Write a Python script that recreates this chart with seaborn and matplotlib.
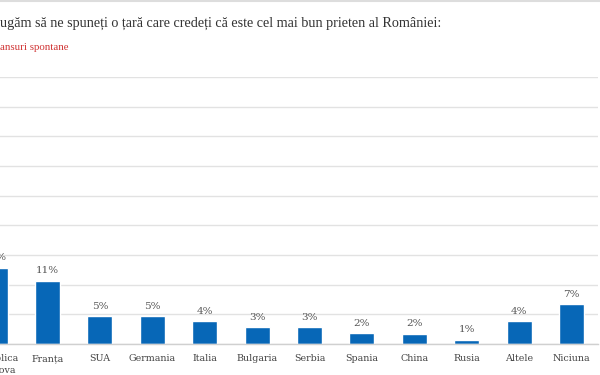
import matplotlib
matplotlib.use("Agg")
import matplotlib.pyplot as plt
import seaborn as sns
import pandas as pd
import numpy as np
from matplotlib.lines import Line2D

categories = ["Republica\nMoldova", "Franța", "SUA", "Germania", "Italia", "Bulgaria",
              "Serbia", "Spania", "China", "Rusia", "Altele", "Niciuna"]
values = [12.8, 10.7, 4.7, 4.7, 3.8, 2.8, 2.8, 1.8, 1.7, 0.7, 3.8, 6.7]
value_labels = ["13%", "11%", "5%", "5%", "4%", "3%", "3%", "2%", "2%", "1%", "4%", "7%"]
yticks = [0, 5, 10, 15, 20, 25, 30, 35, 40, 45]

title = "ugăm să ne spuneți o țară care credeți că este cel mai bun prieten al României:"
subtitle = "ansuri spontane"

sns.set_theme(style="white")
plt.rcParams['font.family'] = ['DejaVu Serif']

df = pd.DataFrame({"cat": categories, "val": values})

fig = plt.figure(figsize=(6, 3.75), dpi=100)
ax = fig.add_axes([-31.1/600, 31/375, 628.8/600, 267/375])

sns.barplot(data=df, x="cat", y="val", color="#0767b7", saturation=1, width=0.476, ax=ax)

ax.set_xlim(-0.5, len(categories) - 0.5)
ax.set_ylim(0, 45)
ax.set_yticks(yticks)
ax.yaxis.grid(True, color="#e2e2e2", linewidth=1)
ax.set_axisbelow(True)
ax.tick_params(axis="y", length=0, labelleft=False)
ax.set_xlabel("")
ax.set_ylabel("")
for s in ["top", "right", "left"]:
    ax.spines[s].set_visible(False)
ax.spines["bottom"].set_color("#d0d0d0")
ax.spines["bottom"].set_linewidth(1)

ax.set_xticks(range(len(categories)))
ax.set_xticklabels(categories, fontsize=6.8, color="#444444", linespacing=1.5)
ax.tick_params(axis="x", which="major", length=0, pad=7)
ax.set_xticks(np.arange(-0.5, len(categories), 1), minor=True)
ax.tick_params(axis="x", which="minor", length=4, color="#d0d0d0", width=1)

for i, (v, lab) in enumerate(zip(values, value_labels)):
    ax.annotate(lab, (i, v), xytext=(0, 4), textcoords="offset points",
                ha="center", va="bottom", fontsize=7.5, color="#555555")

fig.text(0, 1 - 23/375, title, fontsize=10.2, color="#333333", ha="left", va="center",
         family=["Liberation Serif", "DejaVu Serif"])
fig.text(0, 1 - 48/375, subtitle, fontsize=7.8, color="#d03434", ha="left", va="center",
         family=["Liberation Serif", "DejaVu Serif"])
fig.add_artist(Line2D([0, 1], [1 - 1/375, 1 - 1/375], transform=fig.transFigure,
                      color="#dddddd", linewidth=1.5))

fig.savefig("out.png", dpi=100)
